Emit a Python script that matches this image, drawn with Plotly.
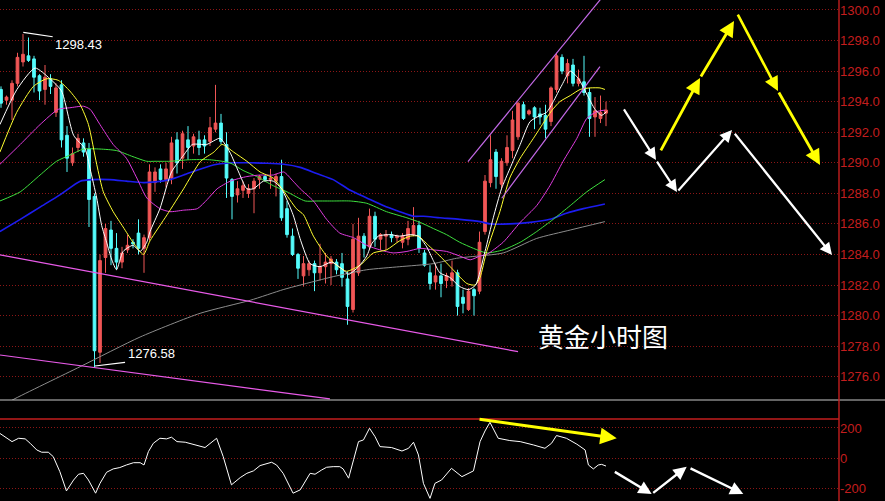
import plotly.graph_objects as go

# ---------------- data ----------------
idx = list(range(111))
opens = [1294.8, 1294.1, 1294.1, 1295.2, 1296.6, 1297.0, 1296.8, 1295.7, 1294.8, 1295.5,
 1293.3, 1295.1, 1291.8, 1290.0, 1291.0, 1291.3, 1290.9, 1287.8, 1277.6, 1283.8,
 1285.6, 1284.4, 1283.5, 1284.3, 1284.8, 1285.4, 1284.4, 1285.1, 1288.7, 1289.6,
 1288.9, 1289.0, 1291.5, 1290.3, 1291.5, 1291.1, 1291.5, 1291.5, 1291.4, 1292.2,
 1292.6, 1291.2, 1288.9, 1287.9, 1288.2, 1288.0, 1288.3, 1288.9, 1289.1, 1288.9,
 1288.8, 1289.1, 1287.0, 1285.2, 1284.0, 1282.6, 1283.0, 1283.4, 1282.8, 1283.2,
 1283.4, 1283.5, 1283.4, 1282.4, 1280.4, 1282.8, 1285.2, 1284.5, 1286.5, 1285.0,
 1285.2, 1285.3, 1285.1, 1284.8, 1285.0, 1285.3, 1285.9, 1284.1, 1282.8, 1282.2,
 1282.6, 1282.3, 1282.3, 1282.8, 1281.2, 1280.4, 1281.7, 1281.6, 1285.5, 1288.7,
 1290.7, 1288.6, 1290.0, 1290.8, 1291.7, 1293.8, 1293.2, 1293.6, 1293.2, 1293.1,
 1292.7, 1294.8, 1296.9, 1295.7, 1296.4, 1295.2, 1295.3, 1294.6, 1293.0, 1292.9,
 1293.25]
highs = [1295.0, 1294.4, 1295.4, 1297.2, 1298.43, 1298.2, 1297.0, 1295.8, 1296.4, 1295.8,
 1295.2, 1295.4, 1292.4, 1291.0, 1291.9, 1291.6, 1291.3, 1288.0, 1284.0, 1286.0,
 1286.2, 1285.4, 1284.5, 1285.3, 1285.0, 1286.3, 1285.3, 1289.9, 1289.7, 1289.9,
 1290.0, 1291.7, 1292.0, 1292.1, 1292.4, 1291.9, 1292.1, 1291.8, 1293.0, 1295.1,
 1293.2, 1292.0, 1289.0, 1288.8, 1288.8, 1288.6, 1289.0, 1289.2, 1289.2, 1289.6,
 1289.3, 1290.2, 1287.5, 1285.7, 1284.1, 1283.9, 1283.6, 1283.6, 1284.7, 1284.1,
 1283.9, 1283.7, 1284.1, 1282.9, 1286.0, 1286.4, 1285.4, 1287.0, 1286.8, 1285.4,
 1285.6, 1285.5, 1285.3, 1285.4, 1286.2, 1287.1, 1286.2, 1284.3, 1283.3, 1283.4,
 1283.4, 1282.8, 1283.6, 1283.0, 1281.7, 1281.8, 1281.8, 1285.5, 1289.2, 1291.8,
 1290.9, 1290.3, 1291.8, 1293.4, 1294.0, 1294.0, 1293.5, 1293.7, 1293.6, 1293.8,
 1295.0, 1297.2, 1297.1, 1296.8, 1296.8, 1296.1, 1297.0, 1294.9, 1294.3, 1294.4,
 1294.0]
lows = [1293.6, 1293.8, 1292.8, 1295.0, 1296.3, 1296.6, 1294.6, 1294.1, 1293.8, 1294.5,
 1293.0, 1291.0, 1289.4, 1289.8, 1290.7, 1290.4, 1285.8, 1276.58, 1276.9, 1282.8,
 1283.3, 1283.0, 1283.1, 1284.1, 1284.4, 1284.0, 1282.8, 1284.9, 1288.1, 1288.7,
 1288.4, 1288.6, 1289.3, 1289.6, 1290.2, 1290.6, 1290.5, 1290.6, 1291.1, 1292.0,
 1291.2, 1287.7, 1286.3, 1287.4, 1287.7, 1287.7, 1286.7, 1288.3, 1288.8, 1288.3,
 1287.8, 1286.2, 1285.1, 1283.9, 1282.4, 1281.9, 1282.6, 1281.6, 1282.3, 1282.1,
 1282.0, 1282.7, 1281.9, 1279.4, 1280.2, 1282.6, 1283.8, 1284.3, 1284.5, 1284.3,
 1284.3, 1284.8, 1284.8, 1284.4, 1284.6, 1285.2, 1284.1, 1283.2, 1281.7, 1281.7,
 1281.2, 1281.8, 1281.9, 1280.0, 1280.15, 1280.3, 1280.0, 1281.4, 1285.3, 1288.4,
 1288.3, 1288.3, 1289.8, 1290.3, 1291.5, 1292.8, 1293.1, 1292.2, 1292.5, 1291.6,
 1292.4, 1294.6, 1295.8, 1295.2, 1295.0, 1295.0, 1294.4, 1291.7, 1291.7, 1292.6,
 1292.4]
closes = [1293.9, 1294.3, 1295.2, 1296.9, 1297.1, 1296.7, 1295.6, 1294.7, 1295.6, 1295.0,
 1294.9, 1291.5, 1290.3, 1290.6, 1291.6, 1290.7, 1287.6, 1277.7, 1283.6, 1285.7,
 1284.4, 1283.5, 1284.1, 1284.6, 1284.7, 1284.4, 1285.1, 1289.4, 1289.4, 1288.9,
 1289.6, 1291.3, 1290.0, 1291.9, 1291.0, 1291.7, 1291.0, 1291.1, 1292.3, 1292.6,
 1291.4, 1289.0, 1287.8, 1288.3, 1288.5, 1288.3, 1288.8, 1289.1, 1288.9, 1289.0,
 1289.1, 1286.4, 1285.3, 1284.0, 1283.1, 1283.4, 1283.4, 1282.8, 1283.2, 1283.5,
 1283.7, 1283.0, 1282.5, 1280.6, 1285.0, 1285.2, 1284.4, 1286.5, 1285.0, 1285.3,
 1285.3, 1285.1, 1285.2, 1285.2, 1285.7, 1285.9, 1284.4, 1283.3, 1282.1, 1282.6,
 1282.1, 1282.6, 1282.8, 1280.6, 1280.8, 1281.6, 1281.3, 1284.8, 1288.8, 1290.2,
 1289.1, 1290.1, 1291.0, 1292.8, 1293.9, 1292.9, 1293.4, 1293.0, 1293.0, 1292.2,
 1294.9, 1297.0, 1296.0, 1296.5, 1295.2, 1295.5, 1294.6, 1292.9, 1293.4, 1293.3,
 1293.45]

ma_white_x = [-0.2, 2.9, 6.2, 8.9, 11.0, 13.2, 15.3, 16.2, 17.4, 18.3, 19.2, 20.1, 21.0, 22.2,
 24.0, 25.3, 26.5, 27.1, 28.9, 31.0, 33.2, 34.8, 37.4, 39.8, 41.6, 43.2, 44.7, 45.9, 47.7,
 49.5, 51.0, 53.1, 54.5, 56.2, 58.0, 60.1, 62.2, 63.2, 65.0, 66.5, 67.4, 68.6, 70.7, 72.5,
 74.4, 75.9, 77.4, 78.6, 79.8, 81.6, 83.4, 85.0, 86.3, 88.0, 89.5, 91.0, 92.5, 94.4, 96.2,
 98.0, 99.2, 100.4, 102.0, 103.5, 105.0, 106.5, 108.0, 109.2, 110.1]
ma_white = [1292.5, 1294.8, 1296.2, 1295.5, 1294.7, 1291.8, 1290.9, 1289.6, 1287.7, 1285.9,
 1284.8, 1283.7, 1283.0, 1284.2, 1284.6, 1284.2, 1284.8, 1285.5, 1287.0, 1289.4, 1290.5,
 1291.2, 1291.2, 1291.6, 1290.7, 1289.4, 1288.3, 1288.3, 1288.8, 1288.8, 1288.3, 1286.6,
 1284.9, 1283.4, 1283.2, 1283.5, 1283.0, 1282.7, 1283.2, 1283.9, 1284.7, 1285.2, 1285.3,
 1285.2, 1285.3, 1285.2, 1284.5, 1283.6, 1282.8, 1282.5, 1281.9, 1281.7, 1282.0, 1284.2,
 1286.4, 1288.3, 1289.6, 1291.2, 1292.7, 1293.1, 1293.3, 1294.0, 1295.1, 1296.0, 1295.5,
 1294.5, 1293.5, 1293.1, 1293.35]

ma_yellow_x = [-0.2, 2.85, 5.9, 8.3, 10.4, 12.5, 14.4, 15.9, 17.4, 18.6, 20.4, 22.2, 24.0,
 25.9, 27.1, 30.2, 33.2, 36.3, 38.7, 40.2, 42.3, 44.7, 47.1, 49.5, 51.3, 53.7, 55.0, 56.8,
 59.2, 61.0, 62.8, 65.3, 67.7, 70.1, 72.5, 74.4, 75.9, 77.7, 79.8, 82.2, 84.7, 86.2, 87.1,
 88.3, 90.7, 92.5, 94.4, 96.8, 98.6, 100.1, 101.6, 103.5, 105.3, 107.1, 108.9, 109.8]
ma_yellow = [1290.7, 1293.3, 1295.0, 1295.5, 1295.4, 1294.7, 1293.8, 1292.5, 1289.9, 1288.1,
 1286.8, 1285.8, 1284.8, 1284.0, 1284.9, 1286.6, 1288.3, 1290.1, 1290.7, 1291.2, 1290.7,
 1290.1, 1289.4, 1289.0, 1288.2, 1287.0, 1286.6, 1285.2, 1283.9, 1283.3, 1282.9, 1283.3,
 1284.1, 1284.3, 1284.9, 1285.2, 1285.2, 1284.6, 1283.9, 1283.0, 1282.1, 1282.0, 1282.5,
 1284.2, 1286.8, 1289.0, 1290.3, 1291.6, 1292.6, 1293.4, 1294.0, 1294.4, 1294.8, 1294.9,
 1294.9, 1294.8]

ma_magenta_x = [-0.2, 3.5, 7.1, 10.4, 12.5, 15.0, 16.2, 18.0, 20.4, 22.8, 24.7, 26.5, 28.9,
 30.7, 33.2, 35.7, 37.5, 39.3, 41.7, 44.7, 47.1, 49.5, 51.4, 53.1, 54.4, 56.8, 59.2, 61.6,
 64.1, 66.5, 68.9, 71.3, 73.8, 76.2, 78.6, 81.0, 83.4, 85.3, 87.1, 88.3, 91.3, 94.4, 97.4,
 99.8, 102.2, 104.7, 106.5, 108.3, 109.8]
ma_magenta = [1289.9, 1291.2, 1292.5, 1293.5, 1293.6, 1293.7, 1293.5, 1292.5, 1291.2, 1290.3,
 1289.0, 1287.7, 1287.0, 1286.8, 1286.9, 1287.0, 1287.6, 1288.3, 1288.8, 1289.1, 1289.2,
 1289.2, 1289.4, 1288.8, 1288.3, 1287.5, 1286.3, 1285.4, 1285.1, 1284.6, 1284.3, 1284.1,
 1284.2, 1284.4, 1284.3, 1284.2, 1283.9, 1283.65, 1283.9, 1284.0, 1284.8, 1286.1, 1287.2,
 1288.5, 1290.1, 1291.6, 1292.9, 1293.35, 1293.45]

ma_green_x = [-0.2, 3.5, 7.1, 10.1, 12.5, 15.0, 18.0, 21.0, 24.0, 26.5, 28.0, 30.7, 34.3,
 37.9, 41.6, 44.0, 46.5, 49.5, 52.0, 55.3, 57.4, 60.4, 63.5, 66.5, 70.1, 73.8, 76.2, 78.6,
 81.0, 83.4, 85.9, 88.3, 91.3, 94.4, 97.4, 100.4, 103.5, 106.5, 109.8]
ma_green = [1287.5, 1288.1, 1289.2, 1290.1, 1290.5, 1290.9, 1290.9, 1290.8, 1290.4, 1290.1,
 1290.1, 1290.1, 1290.2, 1290.2, 1290.0, 1289.5, 1289.1, 1288.5, 1288.1, 1287.5, 1287.5,
 1287.5, 1287.5, 1287.35, 1286.8, 1286.4, 1286.1, 1285.7, 1285.3, 1284.8, 1284.4, 1284.1,
 1284.3, 1284.8, 1285.5, 1286.3, 1287.2, 1288.1, 1288.9]

ma_blue_x = [-0.2, 3.5, 7.1, 10.7, 14.4, 16.8, 19.8, 22.8, 25.9, 28.0, 30.7, 33.2, 36.3,
 39.3, 42.3, 45.3, 48.4, 51.4, 54.4, 57.4, 60.4, 63.5, 66.5, 69.5, 72.5, 75.0, 76.8, 79.8,
 83.4, 87.1, 88.9, 92.5, 96.2, 99.8, 102.8, 105.9, 109.8]
ma_blue = [1285.5, 1286.3, 1287.1, 1287.9, 1288.8, 1288.9, 1288.9, 1288.8, 1288.7, 1288.75,
 1288.9, 1289.2, 1289.6, 1289.9, 1290.0, 1290.0, 1289.97, 1289.9, 1289.7, 1289.3, 1288.9,
 1288.2, 1287.7, 1287.2, 1286.8, 1286.5, 1286.5, 1286.4, 1286.3, 1286.15, 1286.0, 1286.0,
 1286.1, 1286.3, 1286.7, 1287.0, 1287.3]

ma_gray_x = [-0.2, 2.2, 14.4, 25.3, 36.2, 45.3, 51.3, 54.4, 60.4, 66.5, 72.5, 78.6, 82.8,
 85.3, 91.3, 97.4, 103.5, 109.8]
ma_gray = [1274.0, 1274.5, 1276.66, 1278.6, 1280.15, 1281.0, 1281.7, 1282.0, 1282.55, 1283.0,
 1283.2, 1283.4, 1283.75, 1283.85, 1284.1, 1285.05, 1285.6, 1286.15]

cci_x = [-0.2, 2.0, 3.2, 4.4, 5.3, 6.5, 7.4, 8.6, 9.5, 10.7, 11.9, 13.2, 14.1, 15.0, 15.9,
 17.2, 18.0, 19.2, 20.4, 21.6, 22.8, 24.1, 25.3, 26.0, 26.8, 27.7, 28.9, 30.1, 31.0, 32.0,
 33.5, 35.0, 37.1, 39.2, 40.4, 41.9, 43.5, 44.7, 45.9, 47.1, 48.3, 49.2, 50.1, 51.3, 53.1,
 54.4, 56.2, 57.1, 58.3, 59.2, 60.4, 61.6, 62.2, 63.2, 64.1, 65.0, 65.9, 67.0, 68.0, 68.9,
 71.0, 72.9, 74.1, 75.0, 75.9, 76.8, 78.0, 78.9, 80.1, 81.9, 83.8, 85.9, 87.1, 88.0, 88.9,
 90.4, 92.5, 94.4, 96.8, 98.9, 100.1, 101.0, 102.8, 104.7, 106.2, 106.8, 107.7, 108.6,
 109.2, 110.0]
cci_vals = [164, 110, 132, 128, 99, 55, 40, 40, 11, -88, -215, -143, -105, -99, -143, -230,
 -165, -92, -70, -61, -44, -29, -29, -44, 44, 99, 132, 128, 139, 110, 106, 93, 71, 132, 11,
 -175, -127, -99, -83, -48, -37, -26, -44, -99, -230, -208, -99, -105, -77, -59, -55, -55,
 -70, -131, -10, 110, 121, 198, 143, 77, 71, 48, 66, 106, 22, -165, -264, -165, -143, -66,
 -121, -83, 110, 180, 237, 132, 117, 110, 88, 66, 99, 150, 132, 93, 55, -44, -70, -44, -40,
 -51]

# drawn trend lines (bar index, price)
fall_upper_x = [-0.18, 94.0]
fall_upper_y = [1283.97, 1277.64]
fall_lower_x = [-0.18, 59.8]
fall_lower_y = [1277.42, 1274.55]
rise_upper_x = [84.9, 109.8]
rise_upper_y = [1290.07, 1301.05]
rise_lower_x = [91.04, 108.9]
rise_lower_y = [1287.68, 1296.29]
hi_mark_x = [4.05, 9.4]
hi_mark_y = [1298.54, 1298.25]
lo_mark_x = [17.09, 22.55]
lo_mark_y = [1276.70, 1276.94]
price_ticks = list(range(1276, 1301, 2))
cci_ticks = [-200, 0, 200]

# ---------------- figure ----------------
RED_UP = '#f05656'
CYAN = '#54fcfc'
AXIS_RED = '#c41e1e'
GRID = '#8c1616'

fig = go.Figure()
fig.add_trace(go.Candlestick(
    x=idx, open=opens, high=highs, low=lows, close=closes,
    increasing=dict(line=dict(color=RED_UP, width=1), fillcolor=RED_UP),
    decreasing=dict(line=dict(color=CYAN, width=1), fillcolor=CYAN),
    whiskerwidth=0, hoverinfo='skip', showlegend=False))

def line(x, y, color, width=1, yaxis='y', shape='spline'):
    fig.add_trace(go.Scatter(x=x, y=y, mode='lines', yaxis=yaxis, hoverinfo='skip',
                             showlegend=False,
                             line=dict(color=color, width=width, shape=shape,
                                       smoothing=0.6 if shape == 'spline' else None)))

line(ma_gray_x, ma_gray, '#8c8c8c')
line(ma_blue_x, ma_blue, '#1c1cf0', 1.6)
line(ma_green_x, ma_green, '#3ee03e')
line(ma_magenta_x, ma_magenta, '#e03ce0')
line(ma_yellow_x, ma_yellow, '#ffff30')
line(ma_white_x, ma_white, '#ffffff')
line(fall_upper_x, fall_upper_y, '#e85ae8', 1.2, shape='linear')
line(fall_lower_x, fall_lower_y, '#e85ae8', 1.2, shape='linear')
line(rise_upper_x, rise_upper_y, '#c46ae8', 1.2, shape='linear')
line(rise_lower_x, rise_lower_y, '#c46ae8', 1.2, shape='linear')
line(hi_mark_x, hi_mark_y, '#ffffff', 1.2, shape='linear')
line(lo_mark_x, lo_mark_y, '#ffffff', 1.2, shape='linear')
fig.add_trace(go.Scatter(x=cci_x, y=cci_vals, mode='lines', yaxis='y2', hoverinfo='skip',
                         showlegend=False, line=dict(color='#ffffff', width=1)))

ann = []
ann.append(dict(x=9.45, y=1297.71, xref='x', yref='y', text='1298.43', showarrow=False,
                xanchor='left', yanchor='middle',
                font=dict(color='#ffffff', size=13, family='Liberation Sans, Arial')))
ann.append(dict(x=22.73, y=1277.53, xref='x', yref='y', text='1276.58', showarrow=False,
                xanchor='left', yanchor='middle',
                font=dict(color='#ffffff', size=13, family='Liberation Sans, Arial')))
ann.append(dict(x=97.3, y=1278.67, xref='x', yref='y', text='黄金小时图', showarrow=False,
                xanchor='left', yanchor='middle',
                font=dict(color='#ffffff', size=26, family='Noto Sans CJK SC')))

def arrow(tail, head, color, width, yref='y', size=1.1):
    ann.append(dict(x=head[0], y=head[1], ax=tail[0], ay=tail[1], xref='x', yref=yref,
                    axref='x', ayref=yref, text='', showarrow=True, arrowhead=2,
                    arrowsize=size, arrowwidth=width, arrowcolor=color, standoff=0))

# main-panel forecast arrows (bar index, price)
arrow((113.09, 1293.59), (119.09, 1290.18), '#ffffff', 2.2)
arrow((119.09, 1290.18), (122.91, 1288.09), '#ffffff', 2.2)
arrow((122.91, 1288.09), (132.91, 1292.15), '#ffffff', 2.2)
arrow((133.2, 1292.0), (151.09, 1283.97), '#ffffff', 2.2)
arrow((119.82, 1290.71), (127.09, 1295.55), '#ffff00', 2.8)
arrow((127.09, 1295.55), (133.27, 1299.28), '#ffff00', 2.8)
arrow((133.82, 1299.80), (141.27, 1294.70), '#ffff00', 2.6)
arrow((141.27, 1294.70), (148.91, 1289.86), '#ffff00', 2.8)
# CCI-panel arrows (bar index, cci)
arrow((86.73, 259), (111.95, 131.8), '#ffff00', 3.0, yref='y2')
arrow((111.33, -83.7), (118.31, -235.3), '#ffffff', 2.4, yref='y2')
arrow((118.31, -235.3), (124.67, -55.4), '#ffffff', 2.4, yref='y2')
arrow((125.09, -61.9), (134.96, -235.3), '#ffffff', 2.4, yref='y2')

shapes = [
    dict(type='line', xref='paper', yref='paper', x0=0, x1=885/839, y0=101/501, y1=101/501,
         line=dict(color='#c8c8c8', width=1.2)),
    dict(type='line', xref='paper', yref='paper', x0=0, x1=1, y0=82/501, y1=82/501,
         line=dict(color=AXIS_RED, width=1.4)),
    dict(type='line', xref='paper', yref='paper', x0=1, x1=1, y0=0, y1=1,
         line=dict(color=AXIS_RED, width=1.4)),
]

tickfont = dict(color=AXIS_RED, size=13, family='Liberation Sans, Arial')
fig.update_layout(
    width=885, height=501,
    margin=dict(l=0, r=46, t=0, b=0),
    paper_bgcolor='#000000', plot_bgcolor='#000000',
    showlegend=False,
    xaxis=dict(range=[-0.182, 152.36], visible=False, rangeslider=dict(visible=False),
               showgrid=False, zeroline=False, fixedrange=True),
    yaxis=dict(domain=[101/501, 1], range=[1274.476, 1300.654], side='right',
               tickvals=price_ticks, ticktext=[f'{v:.1f}' for v in price_ticks],
               tickfont=tickfont, showgrid=True, gridcolor=GRID, griddash='1px,2px',
               gridwidth=1, zeroline=False, showline=False, ticks=''),
    yaxis2=dict(domain=[0, 82/501], range=[-281.4, 259], side='right', anchor='x',
                tickvals=cci_ticks, ticktext=[str(v) for v in cci_ticks],
                tickfont=tickfont, showgrid=True, gridcolor=GRID, griddash='1px,2px',
                gridwidth=1, zeroline=False, showline=False, ticks=''),
    annotations=ann, shapes=shapes,
)

fig.write_html('out.html', config={'displayModeBar': False},
               post_script="document.body.style.margin='0';document.body.style.overflow='hidden';")
